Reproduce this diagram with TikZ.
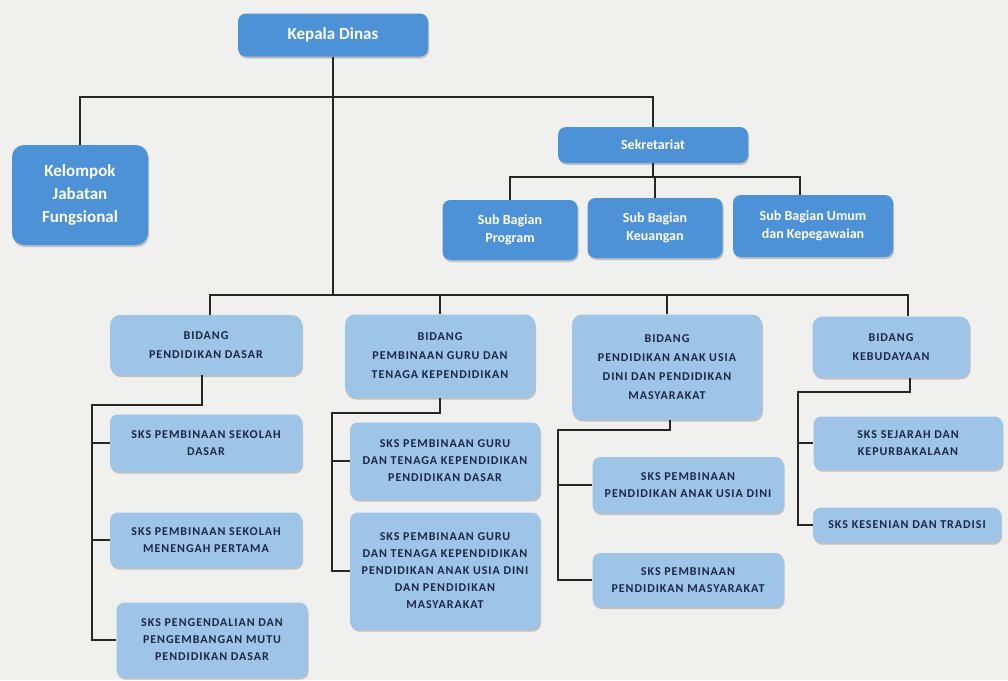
\documentclass[tikz,border=0pt]{standalone}
\usepackage{fontspec}
\setmainfont{Carlito}
\newfontfamily\capsfont[LetterSpace=8]{Carlito}
\usetikzlibrary{shadows}
\definecolor{topblue}{RGB}{77,145,214}
\definecolor{lightblue}{RGB}{158,196,232}
\definecolor{navytext}{RGB}{26,40,70}
\definecolor{bgpaper}{RGB}{240,241,239}
\tikzset{
  box/.style={rounded corners=8pt,align=center,inner sep=2pt,
    drop shadow={shadow xshift=1pt,shadow yshift=-2pt,opacity=.35,fill=black!60}},
  topbox/.style={box,fill=topblue,text=white,font=\fontsize{17}{23}\selectfont\bfseries},
  subbox/.style={box,fill=topblue,text=white,font=\fontsize{14}{18}\selectfont\bfseries},
  bidbox/.style={box,rounded corners=10pt,fill=lightblue,text=navytext,font=\capsfont\fontsize{12}{19}\selectfont\bfseries},
  sksbox/.style={box,fill=lightblue,text=navytext,font=\capsfont\fontsize{12}{17}\selectfont\bfseries},
  link/.style={draw=black!85,line width=1.6pt}
}
\begin{document}
\begin{tikzpicture}[x=1pt,y=-1pt]
\fill[bgpaper] (0,0) rectangle (1008,680);
\useasboundingbox (0,0) rectangle (1008,680);
% pimpinan dan sekretariat
\node[topbox,minimum width=190pt,minimum height=43pt] (kd) at (333,35) {Kepala Dinas};
\node[topbox,rounded corners=12pt,minimum width=136pt,minimum height=100pt] (kfj) at (80,195) {Kelompok\\Jabatan\\Fungsional};
\node[subbox,minimum width=190pt,minimum height=36pt] (sek) at (653,145) {Sekretariat};
\node[subbox,minimum width=135pt,minimum height=60pt] (sbp) at (510,230) {Sub Bagian\\Program};
\node[subbox,minimum width=135pt,minimum height=60pt] (sbk) at (655,228) {Sub Bagian\\Keuangan};
\node[subbox,minimum width=160pt,minimum height=62pt] (sbu) at (813,226) {Sub Bagian Umum\\dan Kepegawaian};
% bidang
\node[bidbox,minimum width=192pt,minimum height=60pt] (bid1) at (206,345) {BIDANG\\PENDIDIKAN DASAR};
\node[bidbox,minimum width=190pt,minimum height=83pt] (bid2) at (440,356) {BIDANG\\PEMBINAAN GURU DAN\\TENAGA KEPENDIDIKAN};
\node[bidbox,minimum width=190pt,minimum height=105pt] (bid3) at (667,367) {BIDANG\\PENDIDIKAN ANAK USIA\\DINI DAN PENDIDIKAN\\MASYARAKAT};
\node[bidbox,minimum width=157pt,minimum height=61pt] (bid4) at (891,347) {BIDANG\\KEBUDAYAAN};
% seksi
\node[sksbox,minimum width=192pt,minimum height=57pt] (s11) at (206,443) {SKS PEMBINAAN SEKOLAH\\DASAR};
\node[sksbox,minimum width=192pt,minimum height=55pt] (s12) at (206,540) {SKS PEMBINAAN SEKOLAH\\MENENGAH PERTAMA};
\node[sksbox,minimum width=191pt,minimum height=75pt] (s13) at (212,640) {SKS PENGENDALIAN DAN\\PENGEMBANGAN MUTU\\PENDIDIKAN DASAR};
\node[sksbox,minimum width=190pt,minimum height=77pt] (s21) at (445,461) {SKS PEMBINAAN GURU\\DAN TENAGA KEPENDIDIKAN\\PENDIDIKAN DASAR};
\node[sksbox,minimum width=190pt,minimum height=117pt] (s22) at (445,571) {SKS PEMBINAAN GURU\\DAN TENAGA KEPENDIDIKAN\\PENDIDIKAN ANAK USIA DINI\\DAN PENDIDIKAN\\MASYARAKAT};
\node[sksbox,minimum width=191pt,minimum height=56pt] (s31) at (688,485) {SKS PEMBINAAN\\PENDIDIKAN ANAK USIA DINI};
\node[sksbox,minimum width=191pt,minimum height=54pt] (s32) at (688,580) {SKS PEMBINAAN\\PENDIDIKAN MASYARAKAT};
\node[sksbox,minimum width=189pt,minimum height=53pt] (s41) at (908,443) {SKS SEJARAH DAN\\KEPURBAKALAAN};
\node[sksbox,minimum width=188pt,minimum height=35pt] (s42) at (907,525) {SKS KESENIAN DAN TRADISI};
% garis
\coordinate (kdbar) at (333,97);
\coordinate (bidbar) at (333,295);
\coordinate (sekbar) at (653,177);
\coordinate (t1) at (92,405);
\coordinate (t2) at (332,413);
\coordinate (t3) at (558,430);
\coordinate (t4) at (798,392);
\draw[link] (kd.south) -- (bidbar);
\draw[link] (kfj.north) |- (kdbar) -| (sek.north);
\draw[link] (sek.south) -- (sekbar);
\draw[link] (sbp.north) |- (sekbar) -| ([xshift=-13pt]sbu.north);
\draw[link] (sbk.north) -- (sbk.north |- sekbar);
\draw[link] ([xshift=4pt]bid1.north) |- (bidbar) -| ([xshift=17pt]bid4.north);
\foreach \b in {bid2,bid3}{\draw[link] (\b.north) -- (\b.north |- bidbar);}
\draw[link] ([xshift=-4pt]bid1.south) |- (t1) |- (s13.west);
\draw[link] (bid2.south) |- (t2) |- (s22.west);
\draw[link] ([xshift=3pt]bid3.south) |- (t3) |- (s32.west);
\draw[link] ([xshift=19pt]bid4.south) |- (t4) |- (s42.west);
\foreach \c/\s in {t1/s11,t1/s12,t2/s21,t3/s31,t4/s41}{\draw[link] (\c) |- (\s.west);}
\end{tikzpicture}
\end{document}
